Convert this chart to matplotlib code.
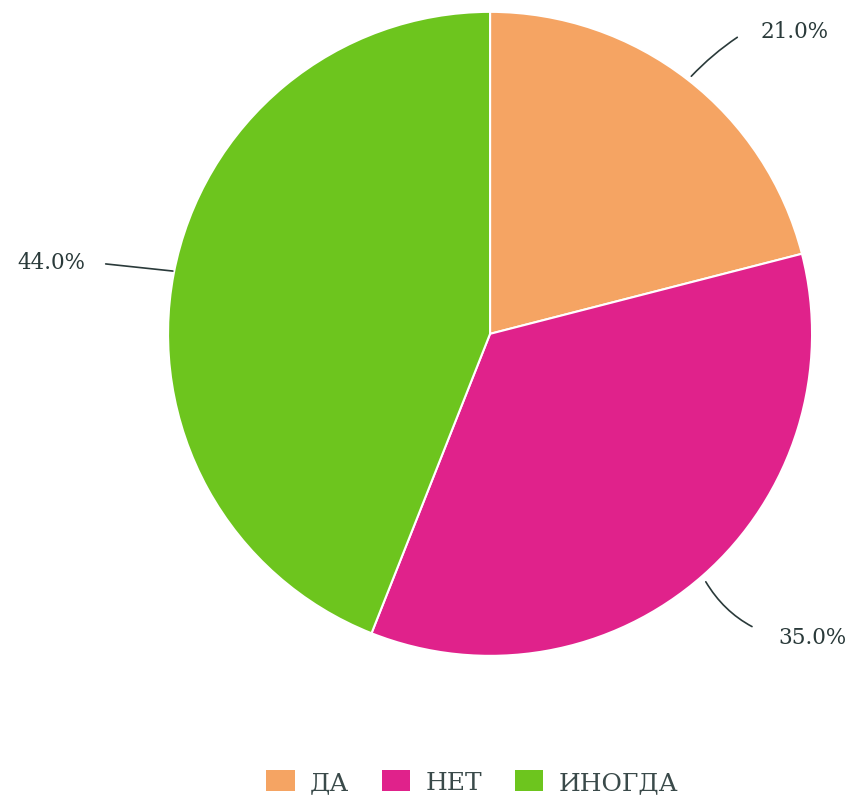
import matplotlib.pyplot as plt
from matplotlib.patches import Patch

labels = ['ДА', 'НЕТ', 'ИНОГДА']
values = [21.0, 35.0, 44.0]
colors = ['#F5A463', '#E0228B', '#6DC51E']

plt.rcParams['font.family'] = ['DejaVu Serif']
txt_color = '#2a3a3a'

fig = plt.figure(figsize=(8.53, 8.03), dpi=100)
ax = fig.add_axes([0.197, 0.182, 0.755, 0.802])
wedges, _ = ax.pie(values, colors=colors, startangle=90, counterclock=False,
                   radius=1.0, wedgeprops=dict(edgecolor='white', linewidth=1.5))
ax.set_xlim(-1, 1)
ax.set_ylim(-1, 1)
ax.set_aspect('equal')
ax.axis('off')

# leader lines and percent labels
ax.annotate(f'{values[0]:.1f}%', xy=(0.625, 0.80), xytext=(0.839, 0.94),
            fontsize=15.5, color=txt_color, va='center', ha='left',
            arrowprops=dict(arrowstyle='-', color=txt_color, lw=1.2,
                            shrinkA=17, shrinkB=0, relpos=(0, 0.85),
                            connectionstyle='arc3,rad=0.08'),
            annotation_clip=False)
ax.annotate(f'{values[1]:.1f}%', xy=(0.67, -0.77), xytext=(0.894, -0.941),
            fontsize=15.5, color=txt_color, va='center', ha='left',
            arrowprops=dict(arrowstyle='-', color=txt_color, lw=1.2,
                            shrinkA=18, shrinkB=0, relpos=(0, 0.5),
                            connectionstyle='arc3,rad=-0.2'),
            annotation_clip=False)
ax.annotate(f'{values[2]:.1f}%', xy=(-0.985, 0.195), xytext=(-1.258, 0.224),
            fontsize=15.5, color=txt_color, va='center', ha='right',
            arrowprops=dict(arrowstyle='-', color=txt_color, lw=1.2,
                            shrinkA=13, shrinkB=0, relpos=(1, 0.5)),
            annotation_clip=False)

handles = [Patch(facecolor=c, edgecolor='none') for c in colors]
fig.legend(handles, labels, loc='center', bbox_to_anchor=(472/853, 1 - 783/803),
           ncol=3, frameon=False, fontsize=18, handlelength=1.15, handleheight=0.95,
           columnspacing=1.3, handletextpad=0.6, labelcolor='#3a4a4a')

fig.savefig('out.png', dpi=100)
